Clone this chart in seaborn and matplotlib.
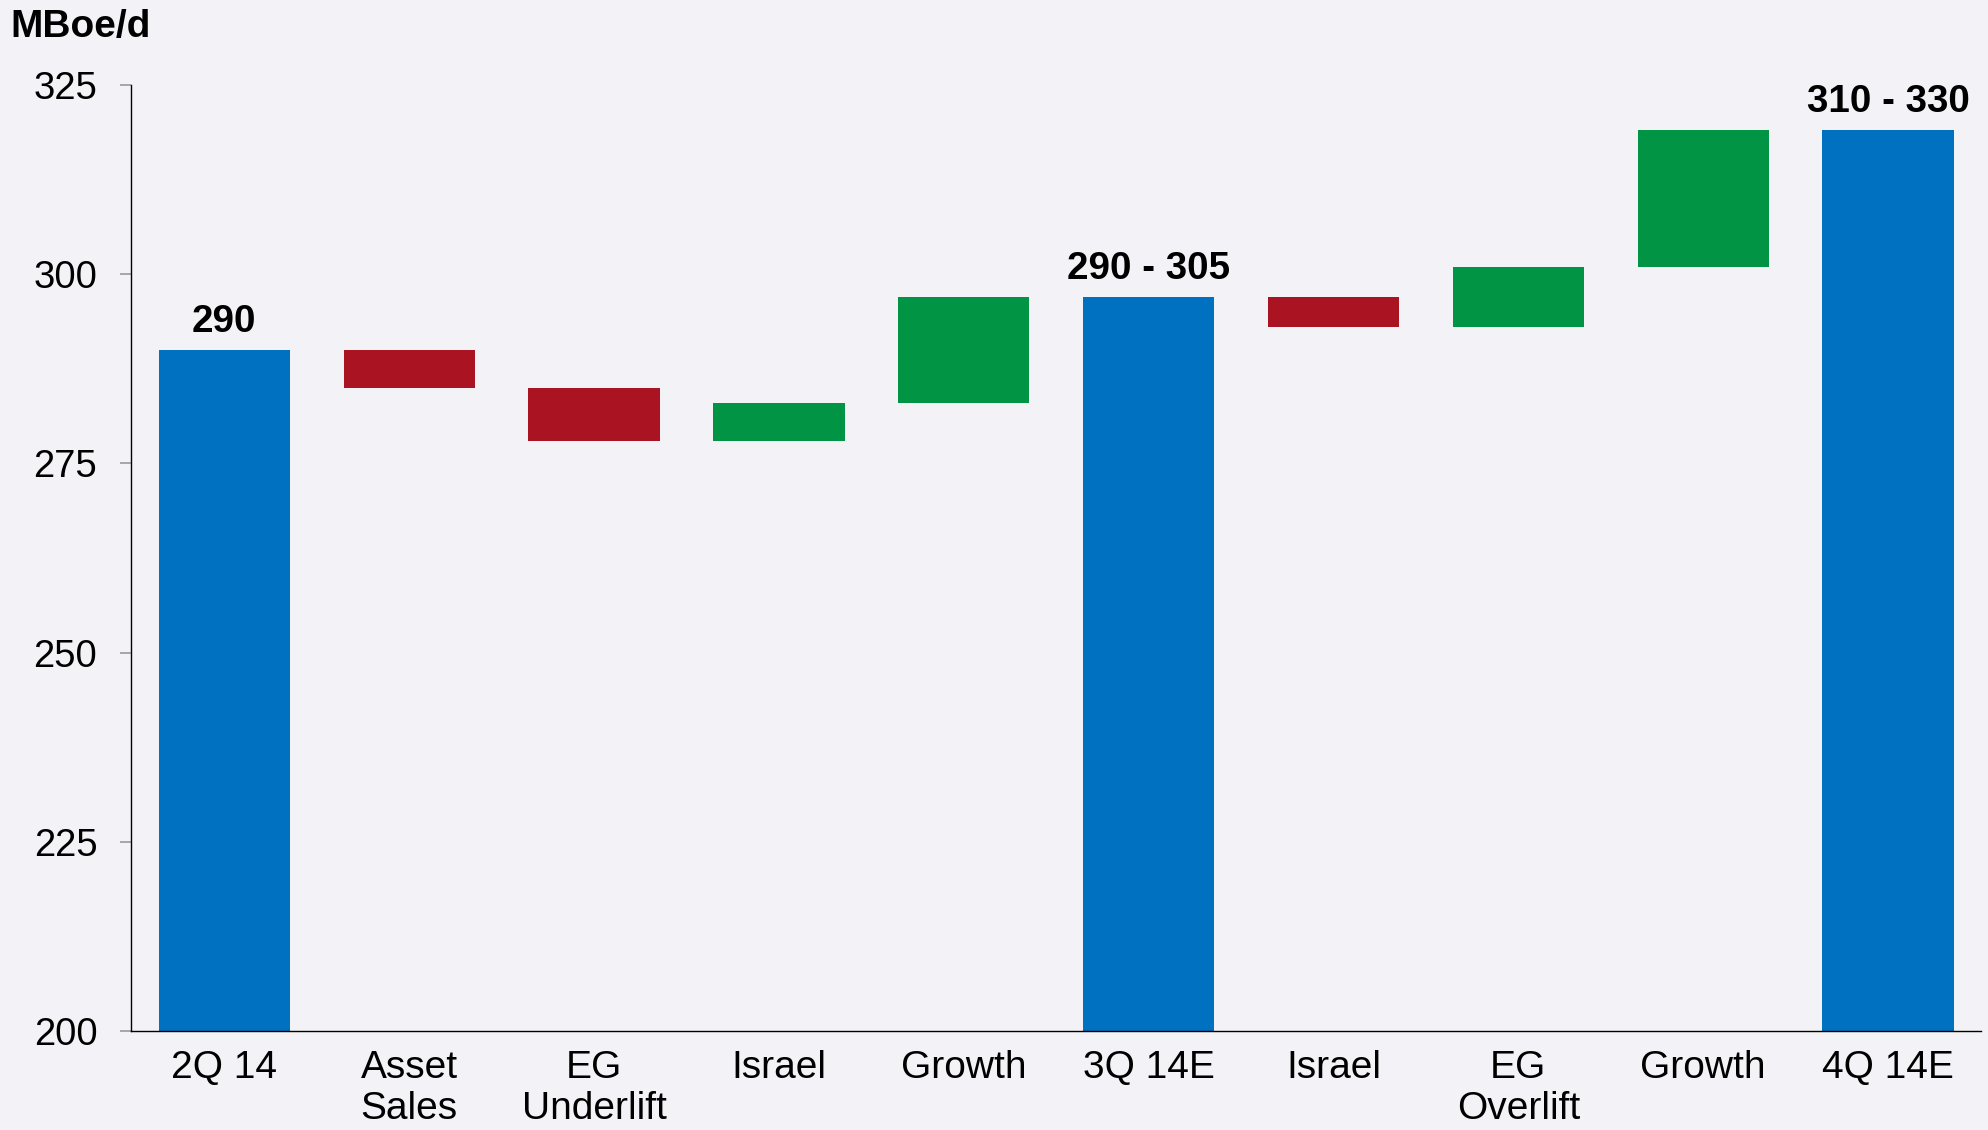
import numpy as np
import pandas as pd
import matplotlib
matplotlib.use("Agg")
import matplotlib.pyplot as plt
import seaborn as sns

# Production bridge, MBoe/d
steps = ["s0", "s1", "s2", "s3", "s4", "s5", "s6", "s7", "s8", "s9"]
tick_labels = ["2Q 14", "Asset\nSales", "EG\nUnderlift", "Israel", "Growth",
               "3Q 14E", "Israel", "EG\nOverlift", "Growth", "4Q 14E"]
kinds = ["total", "delta", "delta", "delta", "delta",
         "total", "delta", "delta", "delta", "total"]
start_value = 290
deltas = [0, -5, -7, 5, 14, 0, -4, 8, 18, 0]
total_labels = {"s0": "290", "s5": "290 - 305", "s9": "310 - 330"}

BLUE = "#0070C0"
RED = "#AA1422"
GREEN = "#009444"
BG = "#F3F3F7"

# Build floating-bar geometry for the waterfall
level = start_value
bottoms, tops = [], []
for kind, d in zip(kinds, deltas):
    if kind == "total":
        bottoms.append(200)
        tops.append(level)
    else:
        new = level + d
        bottoms.append(min(level, new))
        tops.append(max(level, new))
        level = new

df = pd.DataFrame({
    "step": steps,
    "kind": kinds,
    "delta": deltas,
    "bottom": bottoms,
    "height": np.array(tops) - np.array(bottoms),
    "top": tops,
})
df["group"] = np.where(df["kind"] == "total", "total",
                       np.where(df["delta"] < 0, "down", "up"))

sns.set_theme(style="white")
plt.rcParams["font.family"] = ["Liberation Sans", "DejaVu Sans"]

fig = plt.figure(figsize=(19.88, 11.30), dpi=100, facecolor=BG)
ax = fig.add_axes([0.0657, 0.0876, 0.9308, 0.8372])
ax.set_facecolor(BG)

colors = {"total": BLUE, "down": RED, "up": GREEN}
for grp in ["total", "down", "up"]:
    sub = df[df["group"] == grp]
    sns.barplot(data=sub, x="step", y="height", order=steps,
                bottom=sub["bottom"].to_numpy(), color=colors[grp],
                saturation=1, width=0.71, errorbar=None,
                linewidth=0, ax=ax)

# Value labels above the total bars
for i, s in enumerate(steps):
    if s in total_labels:
        ax.annotate(total_labels[s], xy=(i, df.loc[i, "top"]),
                    xytext=(0, 13), textcoords="offset points",
                    ha="center", va="baseline", fontsize=27.8,
                    fontweight="bold", color="black")

ax.set_xlim(-0.507, 9.503)
ax.set_ylim(200, 325)
ax.set_yticks([200, 225, 250, 275, 300, 325])
ax.set_xticks(range(len(steps)))
ax.set_xticklabels(tick_labels, fontsize=28, linespacing=1.15)
ax.set_xlabel("")
ax.set_ylabel("")

for side in ["top", "right"]:
    ax.spines[side].set_visible(False)
for side in ["left", "bottom"]:
    ax.spines[side].set_color("black")
    ax.spines[side].set_linewidth(1.0)

ax.tick_params(axis="y", left=True, length=8, width=1.2, color="#9A9A9A",
               pad=16, labelsize=27.5, labelcolor="black")
ax.tick_params(axis="x", bottom=False, length=0, pad=14, labelcolor="black")

fig.text(0.005, 0.9675, "MBoe/d", fontsize=28, fontweight="bold",
         ha="left", va="baseline", color="black")

fig.savefig("out.png", dpi=100, facecolor=BG)
